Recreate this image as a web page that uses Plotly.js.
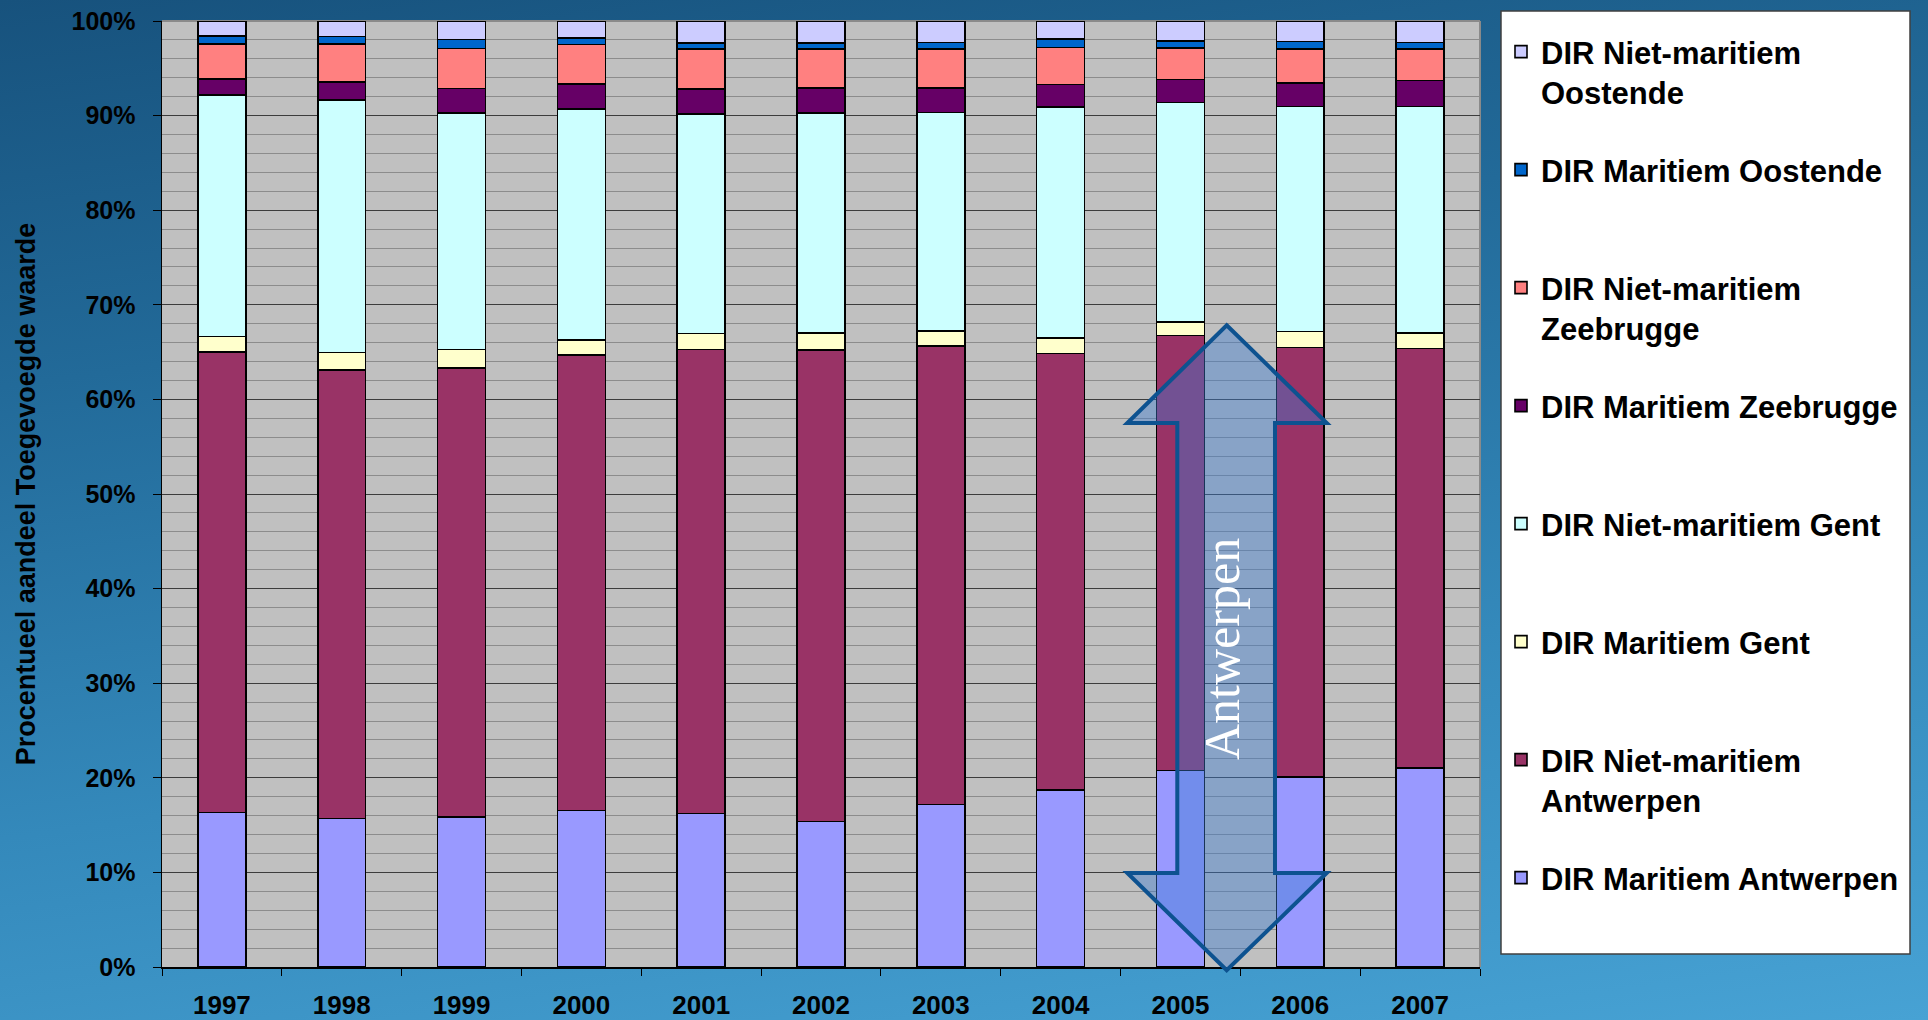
<!DOCTYPE html>
<html>
<head>
<meta charset="utf-8">
<script src="https://cdn.plot.ly/plotly-3.0.1.min.js"></script>
<style>
html, body { margin: 0; padding: 0; width: 1928px; height: 1020px; overflow: hidden; }
body { background: linear-gradient(172deg, #17527d 0%, #226a99 30%, #3489bb 65%, #47a2d4 100%); }
#chart { width: 1928px; height: 1020px; }
</style>
</head>
<body>
<div id="chart"></div>
<script>
// ---- Data (percent share of value added) ----
const years = ['1997', '1998', '1999', '2000', '2001', '2002', '2003', '2004', '2005', '2006', '2007'];

const maritiemAntwerpen     = [16.35, 15.68, 15.86, 16.53, 16.21, 15.37, 17.16, 18.70, 20.77, 20.11, 21.05];
const nietMaritiemAntwerpen = [48.63, 47.41, 47.44, 48.14, 49.05, 49.86, 48.49, 46.14, 46.00, 45.36, 44.35];
const maritiemGent          = [1.69, 1.86, 1.96, 1.61, 1.69, 1.79, 1.61, 1.62, 1.41, 1.69, 1.62];
const nietMaritiemGent      = [25.49, 26.68, 24.99, 24.39, 23.19, 23.26, 23.06, 24.43, 23.20, 23.80, 23.94];
const maritiemZeebrugge     = [1.71, 1.92, 2.62, 2.66, 2.66, 2.63, 2.62, 2.41, 2.45, 2.48, 2.76];
const nietMaritiemZeebrugge = [3.72, 4.00, 4.22, 4.19, 4.22, 4.15, 4.12, 3.90, 3.33, 3.58, 3.30];
const maritiemOostende      = [0.85, 0.82, 0.96, 0.71, 0.68, 0.64, 0.67, 0.92, 0.71, 0.82, 0.71];
const nietMaritiemOostende  = [1.56, 1.63, 1.95, 1.77, 2.30, 2.30, 2.27, 1.88, 2.13, 2.16, 2.27];

const seriesNames = [
  'DIR Maritiem Antwerpen',
  'DIR Niet-maritiem<br>Antwerpen',
  'DIR Maritiem Gent',
  'DIR Niet-maritiem Gent',
  'DIR Maritiem Zeebrugge',
  'DIR Niet-maritiem<br>Zeebrugge',
  'DIR Maritiem Oostende',
  'DIR Niet-maritiem<br>Oostende'
];
const seriesValues = [maritiemAntwerpen, nietMaritiemAntwerpen, maritiemGent, nietMaritiemGent,
                      maritiemZeebrugge, nietMaritiemZeebrugge, maritiemOostende, nietMaritiemOostende];
const seriesColors = ['#9999ff', '#993366', '#ffffcc', '#ccffff', '#660066', '#ff8080', '#0066cc', '#ccccff'];

const yTickVals = [0, 10, 20, 30, 40, 50, 60, 70, 80, 90, 100];
const yTickText = ['0%', '10%', '20%', '30%', '40%', '50%', '60%', '70%', '80%', '90%', '100%'];

// pad every legend entry to two lines so all entries get the same slot height
function padLines(name) {
  const n = name.split('<br>').length;
  let s = name;
  for (let i = n; i < 2; i++) s += '<br>\u00a0';
  return s;
}

const nSeries = seriesNames.length;
const traces = seriesNames.map((name, i) => ({
  type: 'bar',
  x: years,
  y: seriesValues[i],
  name: padLines(name),
  legendgroup: 'g' + i,
  legendrank: nSeries - i,
  marker: { color: seriesColors[i], line: { color: '#000000', width: 1.6 } },
  hoverinfo: 'x+y'
}));

// plot area in pixels (for decorative overlay placement)
const L = 162, R = 1480, T = 21, B = 967;
const px = (x) => ((x - L) / (R - L)).toFixed(5);
const py = (y) => ((B - y) / (B - T)).toFixed(5);
const P = (x, y) => px(x) + ',' + py(y);

const arrowPath = 'M' + P(1226.7, 325.3) +
  ' L' + P(1326.7, 423) + ' L' + P(1275, 423) + ' L' + P(1275, 873) + ' L' + P(1326.7, 873) +
  ' L' + P(1226.7, 970.3) +
  ' L' + P(1127.3, 873) + ' L' + P(1177.3, 873) + ' L' + P(1177.3, 423) + ' L' + P(1127.3, 423) + ' Z';

const font = 'Liberation Sans, Arial, sans-serif';
const legendFontSize = 31;
const legendLineH = legendFontSize * 1.3;
const legendGap = 118 - (2 * legendLineH + 3);

const layout = {
  width: 1928,
  height: 1020,
  paper_bgcolor: 'rgba(0,0,0,0)',
  plot_bgcolor: '#c0c0c0',
  barmode: 'stack',
  bargap: 0.6,
  margin: { l: L, r: 1928 - R, t: T, b: 1020 - B, autoexpand: false },
  showlegend: true,
  legend: {
    xref: 'container', yref: 'container',
    x: 1501 / 1928, xanchor: 'left',
    y: 1 - 25 / 1020, yanchor: 'top',
    traceorder: 'grouped',
    tracegroupgap: legendGap,
    valign: 'top',
    bgcolor: 'rgba(0,0,0,0)',
    borderwidth: 0,
    maxheight: 1,
    font: { family: font, size: legendFontSize, color: '#000000', weight: 'bold' }
  },
  xaxis: {
    type: 'category',
    showgrid: false,
    showline: true, linecolor: '#000000', linewidth: 1.5,
    ticks: 'outside', tickson: 'boundaries', ticklen: 7, tickcolor: '#000000', tickwidth: 1,
    ticklabelstandoff: 14,
    tickfont: { family: font, size: 26, color: '#000000', weight: 'bold' },
    fixedrange: true
  },
  yaxis: {
    range: [0, 100],
    tickvals: yTickVals,
    ticktext: yTickText,
    showline: true, linecolor: '#000000', linewidth: 1.5,
    ticks: 'outside', ticklen: 8, tickcolor: '#000000', tickwidth: 1,
    ticklabelstandoff: 12,
    showgrid: true, gridcolor: '#3c3c3c', gridwidth: 1,
    zeroline: false,
    minor: { dtick: 2, showgrid: true, gridcolor: '#8c8c8c', gridwidth: 1, ticks: '' },
    tickfont: { family: font, size: 25, color: '#000000', weight: 'bold' },
    title: {
      text: 'Procentueel aandeel Toegevoegde waarde',
      font: { family: font, size: 27, color: '#000000', weight: 'bold' },
      standoff: 28
    },
    fixedrange: true
  },
  shapes: [
    // light border on top/right of the plot area
    { type: 'line', xref: 'paper', yref: 'paper', x0: 0, x1: 1, y0: 1, y1: 1, layer: 'below',
      line: { color: '#8a8a8a', width: 2 } },
    { type: 'line', xref: 'paper', yref: 'paper', x0: 1, x1: 1, y0: 0, y1: 1, layer: 'below',
      line: { color: '#8a8a8a', width: 2 } },
    // legend box
    { type: 'rect', xref: 'paper', yref: 'paper',
      x0: px(1501), x1: px(1910), y0: py(954), y1: py(11),
      fillcolor: '#ffffff', line: { color: '#404040', width: 1.5 }, layer: 'above' },
    // "Antwerpen" double arrow
    { type: 'path', xref: 'paper', yref: 'paper', path: arrowPath, layer: 'above',
      fillcolor: 'rgba(60,125,210,0.42)', line: { color: '#0d5290', width: 4 } }
  ],
  annotations: [
    { xref: 'paper', yref: 'paper', x: px(1252), y: py(649), text: 'Antwerpen',
      showarrow: false, textangle: -90,
      font: { family: 'Liberation Serif, Times New Roman, serif', size: 50, color: '#ffffff' } }
  ]
};

Plotly.newPlot('chart', traces, layout, { displayModeBar: false, staticPlot: true });
</script>
</body>
</html>
